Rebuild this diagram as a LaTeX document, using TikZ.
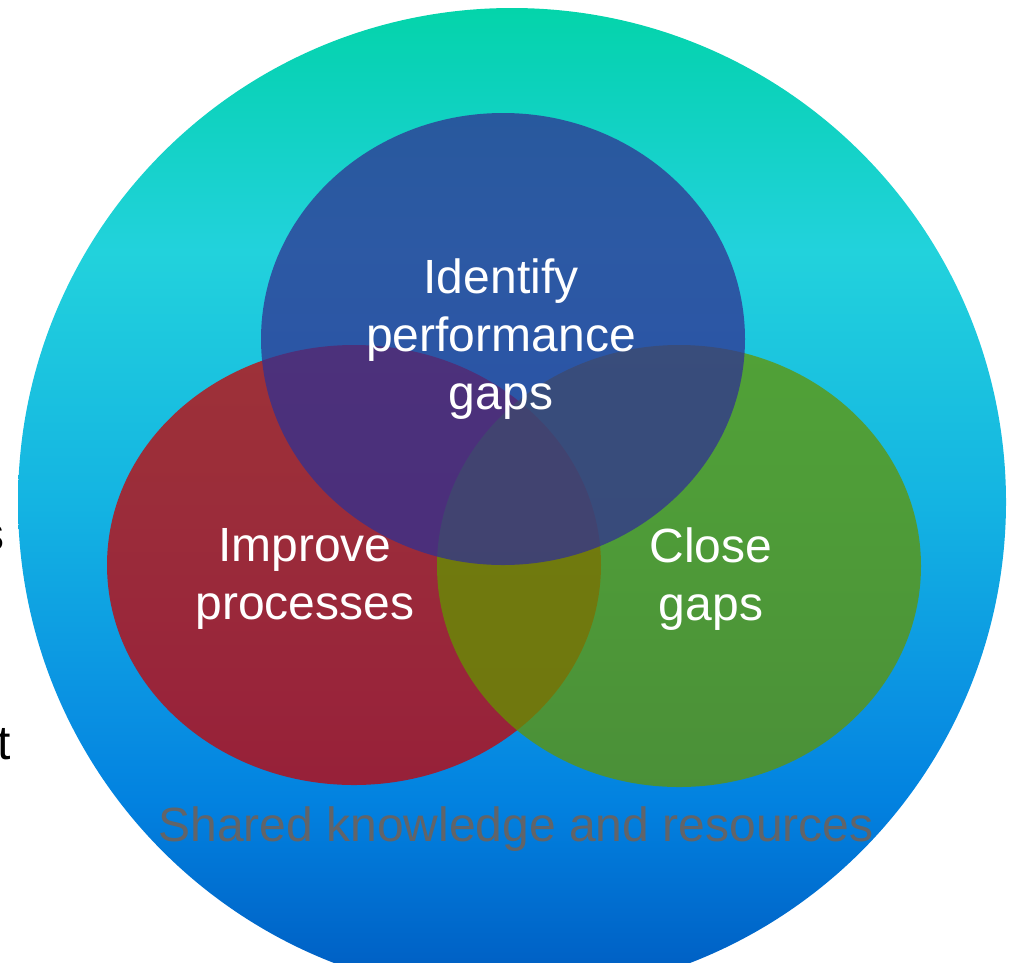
\documentclass[tikz,border=0pt]{standalone}
\usepackage{fontspec}
\setmainfont{Liberation Sans}
\definecolor{bgA}{HTML}{0058BE}
\definecolor{bgB}{HTML}{0062C6}
\definecolor{bgC}{HTML}{0282E0}
\definecolor{bgD}{HTML}{0A92E2}
\definecolor{bgE}{HTML}{14B4E2}
\definecolor{bgF}{HTML}{22D2DC}
\definecolor{bgG}{HTML}{0AD2B8}
\definecolor{bgH}{HTML}{04D4AA}
\definecolor{setred}{HTML}{C90002}
\definecolor{setgreen}{HTML}{639500}
\definecolor{setblue}{HTML}{313192}
\definecolor{sharedgray}{HTML}{626468}
\pgfdeclareverticalshading{sharedbg}{100bp}{color(0bp)=(bgA); color(25bp)=(bgA); color(26.8bp)=(bgB); color(34.9bp)=(bgC); color(40bp)=(bgD); color(50bp)=(bgE); color(62.7bp)=(bgF); color(71.9bp)=(bgG); color(75bp)=(bgH); color(100bp)=(bgH)}
\tikzset{
	setfill/.style={fill=#1,fill opacity=0.75},
	setlabel/.style={text=white,align=center,font=\fontsize{48}{58}\selectfont},
}
\begin{document}
\begin{tikzpicture}[x=1pt,y=-1pt]
	\useasboundingbox (0,0) rectangle (1011,962);
	\shade[shading=sharedbg] (512,502) circle [radius=494pt];
	\fill[setfill=setred] (354,565) ellipse [x radius=247pt,y radius=220pt];
	\fill[setfill=setgreen] (679,566) ellipse [x radius=242pt,y radius=221pt];
	\fill[setfill=setblue] (503,339) ellipse [x radius=242pt,y radius=226pt];
	
	\node[setlabel] (gapid) at (501,339) {Identify\\performance\\gaps};
	\node[setlabel] (improve) at (305,579) {Improve\\processes};
	\node[setlabel] (close) at (711,579) {Close\\gaps};
	\node[anchor=base,text=sharedgray,font=\fontsize{48}{58}\selectfont] (shared) at (516,841) {Shared knowledge and resources};
	
	\node[anchor=base east,font=\fontsize{48}{58}\selectfont] (cuts) at (8,550) {s};
	\node[anchor=base east,font=\fontsize{48}{58}\selectfont] (cutt) at (14,759) {t};
\end{tikzpicture}
\end{document}
